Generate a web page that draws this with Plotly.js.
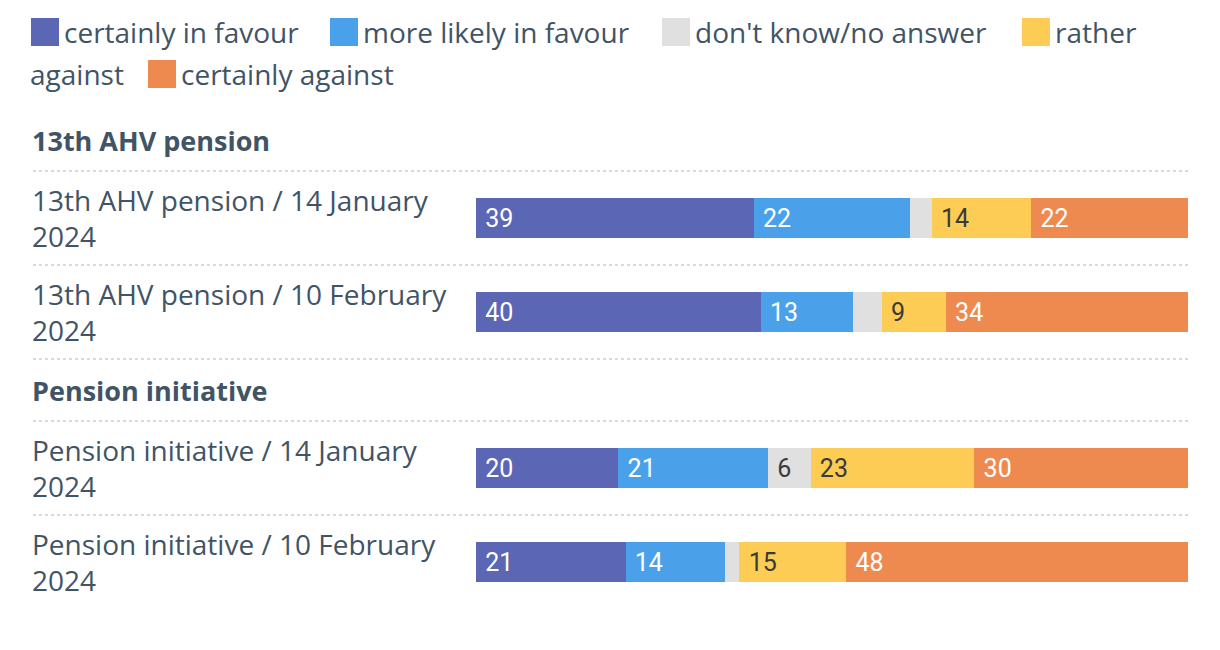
<!DOCTYPE html>
<html>
<head>
<meta charset="utf-8">
<script src="https://cdn.plot.ly/plotly-3.0.1.min.js"></script>
<style>
  html, body { margin: 0; padding: 0; background: #fff; }
  #chart { width: 1220px; height: 650px; }
</style>
</head>
<body>
<div id="chart"></div>
<script>
// answers, in stacking order
let series = ['certainly in favour', 'more likely in favour', "don't know/no answer", 'rather against', 'certainly against'];
let colors = ['#5B66B4', '#4BA1E9', '#E0E0E0', '#FDCC55', '#EE8A50'];
let textColors = ['#ffffff', '#ffffff', '#3a3a3a', '#3a3a3a', '#ffffff'];

// rows: group header + surveys
let groups = ['13th AHV pension', 'Pension initiative'];
let rowLabels = [
  '13th AHV pension / 14 January<br>2024',
  '13th AHV pension / 10 February<br>2024',
  'Pension initiative / 14 January<br>2024',
  'Pension initiative / 10 February<br>2024'
];

let certainlyFor = [39, 40, 20, 21];
let likelyFor    = [22, 13, 21, 14];
let dontKnow     = [3, 4, 6, 2];
let ratherAgainst = [14, 9, 23, 15];
let certainlyAgainst = [22, 34, 30, 48];
let values = [certainlyFor, likelyFor, dontKnow, ratherAgainst, certainlyAgainst];

// vertical layout (axis units, 1 unit ~ 94px)
let headerPos = [0, 2.66];
let rowPos = [0.83, 1.83, 3.49, 4.49];
let linePos = [0.33, 1.33, 2.33, 2.99, 3.99];

let W = 1220, H = 650;
let mL = 476, mR = 32, mT = 93, mB = 40;
let pw = W - mL - mR, ph = H - mT - mB;
function px(x) { return (x - mL) / pw; }
function py(y) { return 1 - (y - mT) / ph; }

let txtColor = '#415465';
let font = 'Open Sans, sans-serif';

let traces = series.map(function(name, i) {
  return {
    type: 'bar',
    orientation: 'h',
    name: name,
    x: values[i],
    y: rowPos,
    width: 0.425,
    marker: {color: colors[i], line: {width: 0}},
    text: values[i].map(v => v >= 5 ? '\u00a0' + v : ''),
    textposition: 'inside',
    insidetextanchor: 'start',
    textfont: {family: 'Roboto, sans-serif', size: 25, color: textColors[i]},
    constraintext: 'none',
    hoverinfo: 'skip',
    showlegend: false
  };
});

let annotations = [];
let shapes = [];

groups.forEach(function(g, i) {
  annotations.push({
    text: '<b>' + g + '</b>', xref: 'paper', yref: 'y', x: px(30), y: headerPos[i],
    xanchor: 'left', yanchor: 'middle', showarrow: false,
    font: {family: font, size: 27, color: txtColor}
  });
});
rowLabels.forEach(function(l, i) {
  annotations.push({
    text: l, xref: 'paper', yref: 'y', x: px(30), y: rowPos[i],
    xanchor: 'left', yanchor: 'middle', align: 'left', showarrow: false,
    font: {family: font, size: 28, color: txtColor}
  });
});
linePos.forEach(function(y) {
  shapes.push({
    type: 'line', xref: 'paper', yref: 'y', x0: px(33), x1: 1, y0: y, y1: y,
    line: {color: '#d9d9d9', width: 2, dash: 'dot'}
  });
});

// legend, written out like wrapped text
let legendItems = [
  {i: 0, sx: 31, sy: 32, text: 'certainly in favour'},
  {i: 1, sx: 330, sy: 32, text: 'more likely in favour'},
  {i: 2, sx: 662, sy: 32, text: "don't know/no answer"},
  {i: 3, sx: 1022, sy: 32, text: 'rather'},
  {i: 4, sx: 148, sy: 74, text: 'certainly against'}
];
legendItems.forEach(function(it) {
  shapes.push({
    type: 'rect', xref: 'paper', yref: 'paper',
    x0: px(it.sx), x1: px(it.sx + 28), y0: py(it.sy - 14), y1: py(it.sy + 14),
    fillcolor: colors[it.i], line: {width: 0}
  });
  annotations.push({
    text: it.text, xref: 'paper', yref: 'paper', x: px(it.sx + 31), y: py(it.sy),
    xanchor: 'left', yanchor: 'middle', showarrow: false,
    font: {family: font, size: 28, color: txtColor}
  });
});
annotations.push({
  text: 'against', xref: 'paper', yref: 'paper', x: px(28), y: py(74),
  xanchor: 'left', yanchor: 'middle', showarrow: false,
  font: {family: font, size: 28, color: txtColor}
});

let layout = {
  width: W, height: H,
  margin: {l: mL, r: mR, t: mT, b: mB},
  barmode: 'stack',
  bargap: 0,
  paper_bgcolor: '#fff',
  plot_bgcolor: '#fff',
  showlegend: false,
  xaxis: {range: [0, 100], visible: false, fixedrange: true},
  yaxis: {range: [5.0, -0.5], visible: false, fixedrange: true},
  annotations: annotations,
  shapes: shapes
};

Plotly.newPlot('chart', traces, layout, {displayModeBar: false, staticPlot: true});
</script>
</body>
</html>
